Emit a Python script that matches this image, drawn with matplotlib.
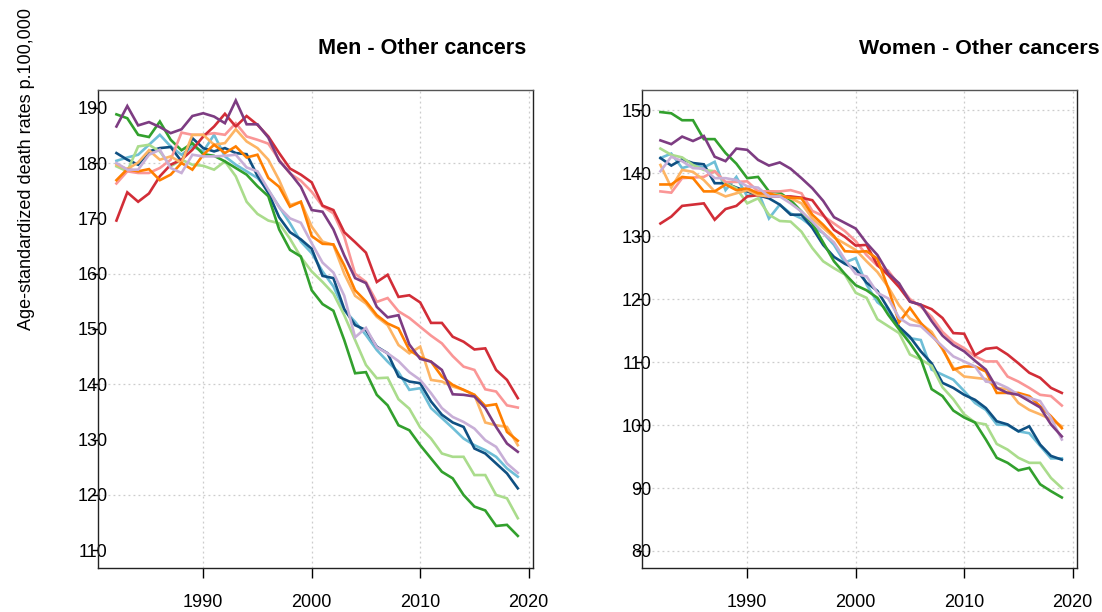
import matplotlib
matplotlib.use("Agg")
import matplotlib.pyplot as plt

plt.rcParams['font.family'] = ['Liberation Sans', 'DejaVu Sans']

years = list(range(1982, 2020))

# colours of the ten series (Paired-like)
colors = ['#6ebed7', '#0f5082', '#aadc8c', '#32a02d', '#fa9696',
          '#d22d37', '#fdb464', '#ff7f00', '#c8afd7', '#7d3c82']

# Men - Other cancers
men_lblue = [180.4, 181.0, 181.5, 183.3, 185.1, 183.0, 181.5, 183.0, 182.1, 185.1,
             181.2, 179.7, 178.5, 177.3, 175.1, 172.1, 169.1, 165.8, 163.7, 160.4,
             157.7, 153.4, 151.3, 148.9, 146.2, 144.1, 142.2, 139.0, 139.3, 135.7,
             133.9, 132.1, 130.2, 129.0, 128.1, 126.9, 124.8, 123.3]
men_dblue = [181.8, 180.6, 179.7, 182.1, 182.7, 182.9, 180.3, 184.5, 182.7, 182.1,
             182.7, 181.8, 181.6, 177.7, 174.6, 170.2, 167.5, 166.2, 164.5, 159.6,
             159.2, 153.6, 150.7, 149.8, 146.8, 145.6, 141.4, 140.5, 140.2, 136.9,
             134.5, 133.1, 132.3, 128.4, 127.5, 125.7, 123.9, 121.2]
men_lgreen = [179.4, 178.5, 183.0, 183.3, 182.1, 179.4, 180.6, 179.7, 179.5, 178.8,
              180.3, 177.6, 173.0, 170.8, 169.6, 169.1, 166.3, 163.0, 160.4, 158.5,
              156.4, 152.5, 148.0, 143.5, 141.1, 141.2, 137.3, 135.6, 132.2, 130.2,
              127.5, 126.9, 126.9, 123.6, 123.6, 120.0, 119.4, 115.8]
men_green = [188.8, 188.1, 185.1, 184.7, 187.5, 184.2, 182.3, 183.6, 181.6, 181.3,
             180.3, 179.1, 177.9, 175.8, 174.0, 168.0, 164.3, 163.1, 157.0, 154.5,
             153.3, 148.0, 142.0, 142.2, 138.1, 136.2, 132.6, 131.7, 129.0, 126.6,
             124.2, 123.0, 120.0, 117.9, 117.2, 114.4, 114.6, 112.6]
men_pink = [176.3, 178.5, 178.2, 178.2, 179.1, 180.6, 185.5, 185.1, 185.1, 185.4,
            185.1, 187.2, 184.8, 184.2, 183.5, 180.6, 178.1, 176.8, 174.8, 172.2,
            170.9, 166.7, 160.0, 158.5, 154.9, 155.6, 153.2, 152.0, 150.4, 148.8,
            147.4, 145.1, 143.2, 142.6, 139.1, 138.7, 136.2, 135.8]
men_red = [169.6, 174.7, 173.0, 174.5, 177.6, 179.7, 180.6, 182.4, 184.8, 186.6,
           188.9, 186.6, 188.5, 186.9, 184.8, 181.8, 179.0, 177.9, 176.5, 172.3,
           171.5, 167.5, 165.7, 163.8, 158.5, 159.8, 155.8, 156.1, 154.8, 151.1,
           151.1, 148.6, 147.7, 146.3, 146.5, 142.6, 140.8, 137.5]
men_lorange = [179.7, 178.9, 180.1, 182.3, 180.6, 181.2, 180.0, 185.1, 185.1, 183.3,
               183.6, 186.1, 183.9, 182.7, 180.6, 176.9, 172.4, 173.0, 168.5, 165.8,
               165.2, 160.0, 156.0, 154.6, 152.2, 150.7, 147.1, 145.6, 146.8, 140.8,
               140.5, 139.6, 139.0, 138.1, 133.1, 132.6, 132.3, 129.0]
men_orange = [176.9, 178.9, 178.5, 178.9, 176.9, 177.9, 180.0, 178.8, 181.5, 183.3,
              181.8, 183.0, 181.0, 181.5, 177.3, 175.7, 172.1, 173.0, 166.8, 165.4,
              165.3, 161.5, 157.0, 155.0, 152.5, 151.0, 150.1, 146.2, 144.9, 144.1,
              141.4, 139.9, 139.0, 138.1, 136.1, 136.4, 131.4, 129.8]
men_lav = [180.0, 178.8, 178.8, 181.5, 182.4, 179.1, 178.2, 181.5, 181.2, 181.2,
           181.3, 181.5, 179.2, 178.5, 175.2, 172.0, 170.0, 169.2, 165.5, 162.0,
           160.2, 156.0, 148.5, 150.2, 146.7, 145.6, 144.2, 142.2, 140.8, 138.4,
           135.7, 134.1, 133.2, 132.0, 129.9, 128.7, 125.7, 124.0]
men_purple = [186.6, 190.3, 186.8, 187.4, 186.5, 185.4, 186.1, 188.5, 189.0, 188.4,
              187.2, 191.3, 187.0, 187.0, 184.6, 180.4, 178.2, 175.7, 171.5, 171.2,
              168.0, 163.3, 159.2, 158.3, 154.0, 152.1, 152.5, 147.2, 144.6, 144.1,
              142.6, 138.2, 138.1, 137.8, 135.7, 132.3, 129.3, 127.8]

# Women - Other cancers
w_lblue = [142.4, 143.1, 140.8, 141.3, 140.9, 141.8, 137.3, 139.4, 136.3, 137.1,
           132.8, 135.0, 133.6, 132.8, 131.5, 130.5, 128.6, 125.8, 126.5, 122.3,
           119.5, 118.2, 115.4, 113.8, 113.5, 108.8, 108.0, 107.2, 105.4, 103.5,
           102.4, 100.1, 100.0, 99.0, 98.7, 96.7, 94.7, 94.7]
w_dblue = [142.4, 141.2, 142.2, 141.6, 141.4, 138.4, 138.4, 137.7, 137.1, 136.5,
           136.0, 135.0, 133.4, 133.4, 131.3, 128.6, 126.7, 125.6, 124.8, 122.6,
           121.3, 118.5, 115.6, 114.0, 111.7, 109.8, 106.7, 105.9, 104.8, 104.0,
           102.7, 100.6, 100.1, 99.0, 99.8, 96.9, 95.1, 94.5]
w_lgreen = [143.9, 142.9, 142.5, 141.3, 140.5, 140.3, 138.4, 137.6, 135.2, 136.0,
            133.4, 132.4, 132.3, 130.7, 128.1, 126.0, 124.9, 123.9, 121.0, 120.2,
            116.8, 115.7, 114.6, 111.2, 110.4, 109.4, 106.0, 104.1, 101.7, 100.4,
            100.1, 97.0, 96.1, 94.8, 94.0, 94.0, 91.6, 90.0]
w_green = [149.7, 149.5, 148.4, 148.4, 145.4, 145.4, 143.2, 141.5, 139.2, 139.4,
           137.1, 136.9, 135.7, 133.9, 132.0, 129.0, 126.0, 124.0, 122.2, 121.4,
           120.2, 117.5, 115.2, 113.0, 110.5, 105.7, 104.6, 102.3, 101.2, 100.4,
           97.7, 94.8, 94.0, 92.8, 93.2, 90.6, 89.5, 88.5]
w_pink = [137.1, 136.9, 139.2, 139.3, 139.4, 140.3, 138.6, 138.6, 138.7, 137.1,
          137.1, 137.1, 137.3, 136.8, 134.0, 133.2, 132.0, 130.8, 129.2, 127.0,
          125.3, 124.5, 122.2, 120.0, 118.8, 117.2, 114.8, 113.2, 112.2, 110.9,
          110.1, 110.1, 107.7, 106.9, 105.9, 104.8, 104.6, 103.1]
w_red = [132.0, 133.1, 134.8, 135.0, 135.2, 132.6, 134.3, 134.8, 136.3, 136.5,
         136.3, 136.3, 136.3, 136.1, 135.7, 133.4, 131.0, 129.9, 128.5, 128.6,
         125.4, 123.8, 121.9, 119.6, 119.1, 118.4, 117.0, 114.6, 114.5, 111.1,
         112.1, 112.3, 111.2, 109.8, 108.3, 107.5, 105.9, 105.1]
w_lorange = [141.3, 137.7, 140.5, 140.2, 138.9, 137.1, 136.3, 136.8, 137.3, 136.5,
             136.3, 136.5, 136.0, 135.2, 132.8, 131.3, 129.8, 128.8, 127.8, 126.0,
             124.3, 121.9, 119.0, 116.9, 116.1, 114.8, 112.0, 109.1, 107.7, 107.5,
             107.3, 105.9, 105.7, 103.5, 102.4, 101.7, 100.9, 99.8]
w_orange = [138.2, 138.2, 139.4, 139.2, 137.1, 137.1, 138.2, 137.3, 137.6, 136.8,
            136.8, 136.3, 136.1, 136.0, 133.4, 131.8, 130.0, 127.6, 127.5, 127.6,
            126.4, 121.7, 116.3, 118.6, 116.2, 114.3, 112.2, 108.8, 109.3, 109.3,
            108.5, 105.1, 105.1, 105.1, 104.6, 103.0, 101.4, 99.5]
w_lav = [140.3, 142.6, 141.9, 140.8, 140.7, 139.2, 139.2, 138.9, 137.9, 137.7,
         136.3, 136.3, 135.2, 133.9, 132.3, 130.5, 129.0, 126.3, 124.0, 123.6,
         121.0, 120.1, 117.0, 115.9, 115.7, 114.1, 112.5, 110.9, 110.1, 109.3,
         106.9, 106.7, 105.9, 104.8, 104.3, 103.8, 101.1, 97.7]
w_purple = [145.2, 144.6, 145.8, 145.1, 145.9, 142.6, 141.9, 143.9, 143.7, 142.1,
            141.2, 141.7, 140.7, 139.2, 137.6, 135.6, 133.0, 132.1, 131.2, 128.9,
            127.0, 124.1, 122.5, 119.6, 119.1, 116.5, 114.2, 112.7, 111.7, 110.2,
            108.8, 105.9, 105.1, 104.8, 103.8, 102.8, 100.1, 98.2]

men = [men_lblue, men_dblue, men_lgreen, men_green, men_pink,
       men_red, men_lorange, men_orange, men_lav, men_purple]
women = [w_lblue, w_dblue, w_lgreen, w_green, w_pink,
         w_red, w_lorange, w_orange, w_lav, w_purple]

xticks = [1990, 2000, 2010, 2020]

fig = plt.figure(figsize=(11.02, 6.12), dpi=100)
ax1 = fig.add_axes([98 / 1102, 44 / 612, 435 / 1102, 478 / 612])
ax2 = fig.add_axes([642 / 1102, 44 / 612, 435 / 1102, 478 / 612])


def draw_panel(ax, series, ylim, yticks, ygrid):
    # grid first so the lines sit on top
    for g in xticks:
        ax.axvline(g, color='#cccccc', lw=0.9, ls=(0, (1.5, 2.5)), zorder=0)
    for g in ygrid:
        ax.axhline(g, color='#cccccc', lw=0.9, ls=(0, (1.5, 2.5)), zorder=0)
    for vals, c in zip(series, colors):
        ax.plot(years, vals, color=c, lw=1.9, solid_joinstyle='miter')
    ax.set_xlim(1980.3, 2020.4)
    ax.set_ylim(*ylim)
    ax.set_xticks(xticks)
    ax.set_yticks(yticks)
    ax.tick_params(axis='x', direction='out', length=7, width=1, pad=11.5, labelsize=13)
    ax.tick_params(axis='y', direction='out', length=4, width=1, pad=-11, labelsize=13)
    for s in ax.spines.values():
        s.set_linewidth(1.0)
        s.set_color('#222222')
    ax.spines['top'].set_color('#555555')


draw_panel(ax1, men, (106.8, 193.2), list(range(110, 191, 10)), list(range(120, 181, 20)))
draw_panel(ax2, women, (77.3, 153.2), list(range(80, 151, 10)), list(range(80, 151, 10)))

fig.text(422 / 1102, 1 - 48 / 612, 'Men - Other cancers', ha='center', va='center',
         fontsize=15.6, fontweight='bold')
# pushed as far right as it goes without running off the edge
fig.text(979 / 1102, 1 - 48 / 612, 'Women - Other cancers', ha='center', va='center',
         fontsize=15.4, fontweight='bold')
fig.text(27 / 1102, 1 - 169 / 612, 'Age-standardized death rates p.100,000',
         rotation=90, ha='center', va='center', fontsize=13)

fig.savefig('out.png', dpi=100)
